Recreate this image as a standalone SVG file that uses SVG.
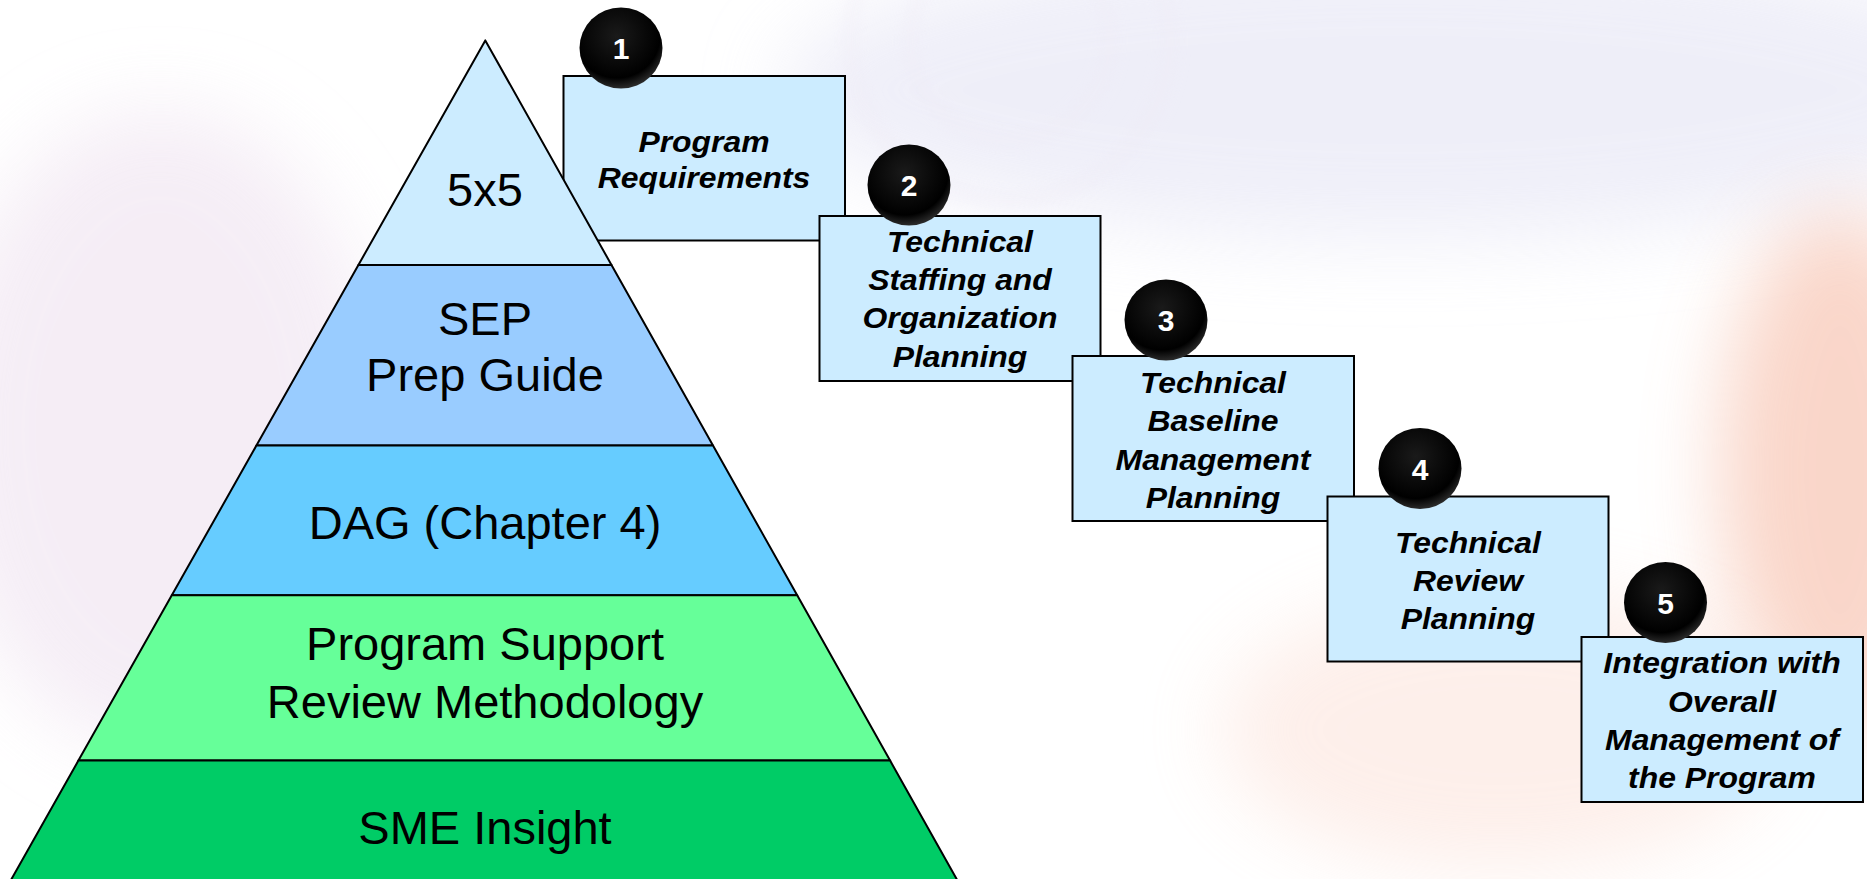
<svg xmlns="http://www.w3.org/2000/svg" width="1867" height="879" viewBox="0 0 1867 879">
<defs>
<filter id="blur" x="-50%" y="-50%" width="200%" height="200%"><feGaussianBlur stdDeviation="40"/></filter>
<filter id="blur2" x="-50%" y="-50%" width="200%" height="200%"><feGaussianBlur stdDeviation="8"/></filter>
<radialGradient id="ball" cx="0.45" cy="0.35" r="0.65">
<stop offset="0" stop-color="#1a1a1a"/>
<stop offset="0.8" stop-color="#000"/>
<stop offset="1" stop-color="#2a2a2a"/>
</radialGradient>
<style>
.layer{stroke:#000;stroke-width:2;stroke-linejoin:round}
.ptxt{font-family:"Liberation Sans",Arial,sans-serif;font-size:47px;fill:#000;text-anchor:middle}
.box{fill:#CCECFF;stroke:#000;stroke-width:2}
.btxt{font-family:"Liberation Sans",Arial,sans-serif;font-size:29px;font-weight:bold;font-style:italic;fill:#000;text-anchor:middle}
.num{font-family:"Liberation Sans",Arial,sans-serif;font-size:30px;font-weight:bold;fill:#fff;text-anchor:middle}
.ball{fill:url(#ball)}
</style>
</defs>
<g id="background">
<rect width="1867" height="879" fill="#fff"/>
<ellipse cx="1400" cy="90" rx="620" ry="150" fill="#E4E4F4" opacity="0.6" filter="url(#blur)"/>
<ellipse cx="160" cy="430" rx="220" ry="320" fill="#F1E6F2" opacity="0.7" filter="url(#blur)"/>
<ellipse cx="1840" cy="470" rx="120" ry="260" fill="#F29A7A" opacity="0.4" filter="url(#blur)"/>
<ellipse cx="1500" cy="730" rx="280" ry="140" fill="#FAD2C4" opacity="0.35" filter="url(#blur)"/>
<g fill="none" stroke="#EEEAF5" stroke-width="8" filter="url(#blur2)" opacity="0.6">
<circle cx="1010" cy="40" r="100"/>
<circle cx="1010" cy="40" r="160"/>
</g>
</g>
<g id="box1">
<rect class="box" x="563.5" y="76" width="281.5" height="164.5"/>
<g transform="translate(704 0) scale(1.1 1)"><text class="btxt"><tspan x="0" y="151.7">Program</tspan><tspan x="0" y="188.3">Requirements</tspan></text></g>
</g>
<g id="pyramid">
<g id="layer-5x5">
<polygon class="layer" fill="#CCECFF" points="485.3,40.4 611.5,265 358.4,265"/>
<text class="ptxt" x="485" y="206">5x5</text>
</g>
<g id="layer-sep">
<polygon class="layer" fill="#99CCFF" points="358.4,265 611.5,265 713,445.6 256.4,445.6"/>
<text class="ptxt"><tspan x="485" y="334.6">SEP</tspan><tspan x="485" y="390.7">Prep Guide</tspan></text>
</g>
<g id="layer-dag">
<polygon class="layer" fill="#66CCFF" points="256.4,445.6 713,445.6 797.2,595.3 171.8,595.3"/>
<text class="ptxt" x="485" y="539.2">DAG (Chapter 4)</text>
</g>
<g id="layer-psrm">
<polygon class="layer" fill="#66FF99" points="171.8,595.3 797.2,595.3 890.1,760.6 78.4,760.6"/>
<text class="ptxt"><tspan x="485" y="660.3">Program Support</tspan><tspan x="485" y="717.5">Review Methodology</tspan></text>
</g>
<g id="layer-sme">
<polygon class="layer" fill="#00CC66" points="78.4,760.6 890.1,760.6 962.8,890 5.3,890"/>
<text class="ptxt" x="485" y="843.6">SME Insight</text>
</g>
</g>
<g id="badge1">
<ellipse class="ball" cx="621" cy="48" rx="41.5" ry="40.5"/>
<text class="num" x="621" y="59">1</text>
</g>
<g id="box2">
<rect class="box" x="819.5" y="216" width="281" height="165"/>
<g transform="translate(960 0) scale(1.1 1)"><text class="btxt"><tspan x="0" y="251.7">Technical</tspan><tspan x="0" y="290">Staffing and</tspan><tspan x="0" y="328.3">Organization</tspan><tspan x="0" y="366.7">Planning</tspan></text></g>
</g>
<g id="badge2">
<ellipse class="ball" cx="909" cy="185" rx="41.5" ry="40.5"/>
<text class="num" x="909" y="196">2</text>
</g>
<g id="box3">
<rect class="box" x="1072.5" y="356" width="281.5" height="165"/>
<g transform="translate(1213 0) scale(1.1 1)"><text class="btxt"><tspan x="0" y="393">Technical</tspan><tspan x="0" y="431.5">Baseline</tspan><tspan x="0" y="470">Management</tspan><tspan x="0" y="508">Planning</tspan></text></g>
</g>
<g id="badge3">
<ellipse class="ball" cx="1166" cy="320" rx="41.5" ry="40.5"/>
<text class="num" x="1166" y="331">3</text>
</g>
<g id="box4">
<rect class="box" x="1327.5" y="496.5" width="281" height="165"/>
<g transform="translate(1468 0) scale(1.1 1)"><text class="btxt"><tspan x="0" y="552.7">Technical</tspan><tspan x="0" y="591">Review</tspan><tspan x="0" y="629.3">Planning</tspan></text></g>
</g>
<g id="badge4">
<ellipse class="ball" cx="1420" cy="468.5" rx="41.5" ry="40.5"/>
<text class="num" x="1420" y="479.5">4</text>
</g>
<g id="box5">
<rect class="box" x="1581.5" y="637" width="281.5" height="165"/>
<g transform="translate(1722 0) scale(1.1 1)"><text class="btxt"><tspan x="0" y="673.3">Integration with</tspan><tspan x="0" y="711.7">Overall</tspan><tspan x="0" y="750">Management of</tspan><tspan x="0" y="788.3">the Program</tspan></text></g>
</g>
<g id="badge5">
<ellipse class="ball" cx="1665.5" cy="602.5" rx="41.5" ry="40.5"/>
<text class="num" x="1665.5" y="613.5">5</text>
</g>
<g id="connectors"/>
</svg>
